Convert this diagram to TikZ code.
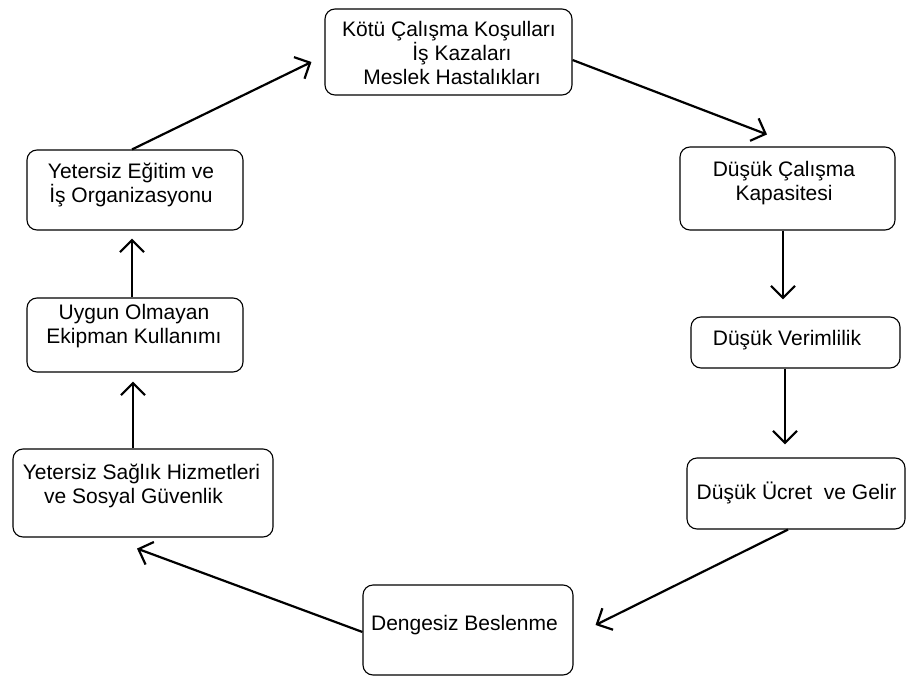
\documentclass[tikz,border=0pt]{standalone}
\usepackage{fontspec}
\setmainfont{Liberation Sans}
\usetikzlibrary{arrows.meta}
\begin{document}
\begin{tikzpicture}[x=1pt,y=-1pt,
  box/.style={draw, line width=1.1pt, rounded corners=10pt, inner sep=0pt},
  lbl/.style={font=\fontsize{21}{24}\selectfont, align=center, inner sep=0pt},
  arr/.style={line width=2.2pt, -{Straight Barb[length=12pt,width=24pt]}}]
\useasboundingbox (0,0) rectangle (907,677);
% boxes
\node[box, minimum width=247pt, minimum height=86pt] (b1) at (448.5,52) {};
\node[box, minimum width=215pt, minimum height=83pt] (b2) at (787.5,188.5) {};
\node[box, minimum width=209pt, minimum height=51pt] (b3) at (795.5,342.5) {};
\node[box, minimum width=218pt, minimum height=71pt] (b4) at (796,493.5) {};
\node[box, minimum width=210pt, minimum height=90pt] (b5) at (468,630) {};
\node[box, minimum width=260pt, minimum height=88pt] (b6) at (143,493) {};
\node[box, minimum width=216pt, minimum height=74pt] (b7) at (135,335) {};
\node[box, minimum width=216pt, minimum height=80pt] (b8) at (135,190) {};
% texts
\node[lbl] (t1) at (449,53) {Kötü Çalışma Koşulları\\\hspace*{26pt}İş Kazaları\\\hspace*{6pt}Meslek Hastalıkları};
\node[lbl] (t2) at (784,183.5) {Düşük Çalışma\\Kapasitesi};
\node[lbl] (t3) at (787,340) {Düşük Verimlilik};
\node[lbl] (t4) at (796.5,493) {Düşük Ücret\ \ ve Gelir};
\node[lbl] (t5) at (464.5,625) {Dengesiz Beslenme};
\node[lbl] (t6) at (141.5,485.5) {Yetersiz Sağlık Hizmetleri\\ve Sosyal Güvenlik\hspace*{16pt}};
\node[lbl] (t7) at (134,326.5) {Uygun Olmayan\\Ekipman Kullanımı};
\node[lbl] (t8) at (131,185) {Yetersiz Eğitim ve\\İş Organizasyonu};
% arrows
\draw[arr] ([yshift=-8pt]b1.east) -- ([xshift=-20.5pt,yshift=12pt]b2.north);
\draw[arr] ([xshift=-4.5pt]b2.south) -- ([xshift=-12.5pt,yshift=17pt]b3.north);
\draw[arr] ([xshift=-10.5pt]b3.south) -- ([xshift=-11pt,yshift=13pt]b4.north);
\draw[arr] ([xshift=-8pt]b4.south) -- ([xshift=22pt,yshift=5pt]b5.east);
\draw[arr] ([yshift=-2pt]b5.west) -- ([xshift=-6pt,yshift=-11pt]b6.south);
\draw[arr] ([xshift=-10pt]b6.north) -- ([xshift=-2pt,yshift=-9pt]b7.south);
\draw[arr] ([xshift=-3pt]b7.north) -- ([xshift=-3pt,yshift=-8pt]b8.south);
\draw[arr] ([xshift=-3pt]b8.north) -- ([xshift=-13pt,yshift=-10pt]b1.west);
\end{tikzpicture}
\end{document}
